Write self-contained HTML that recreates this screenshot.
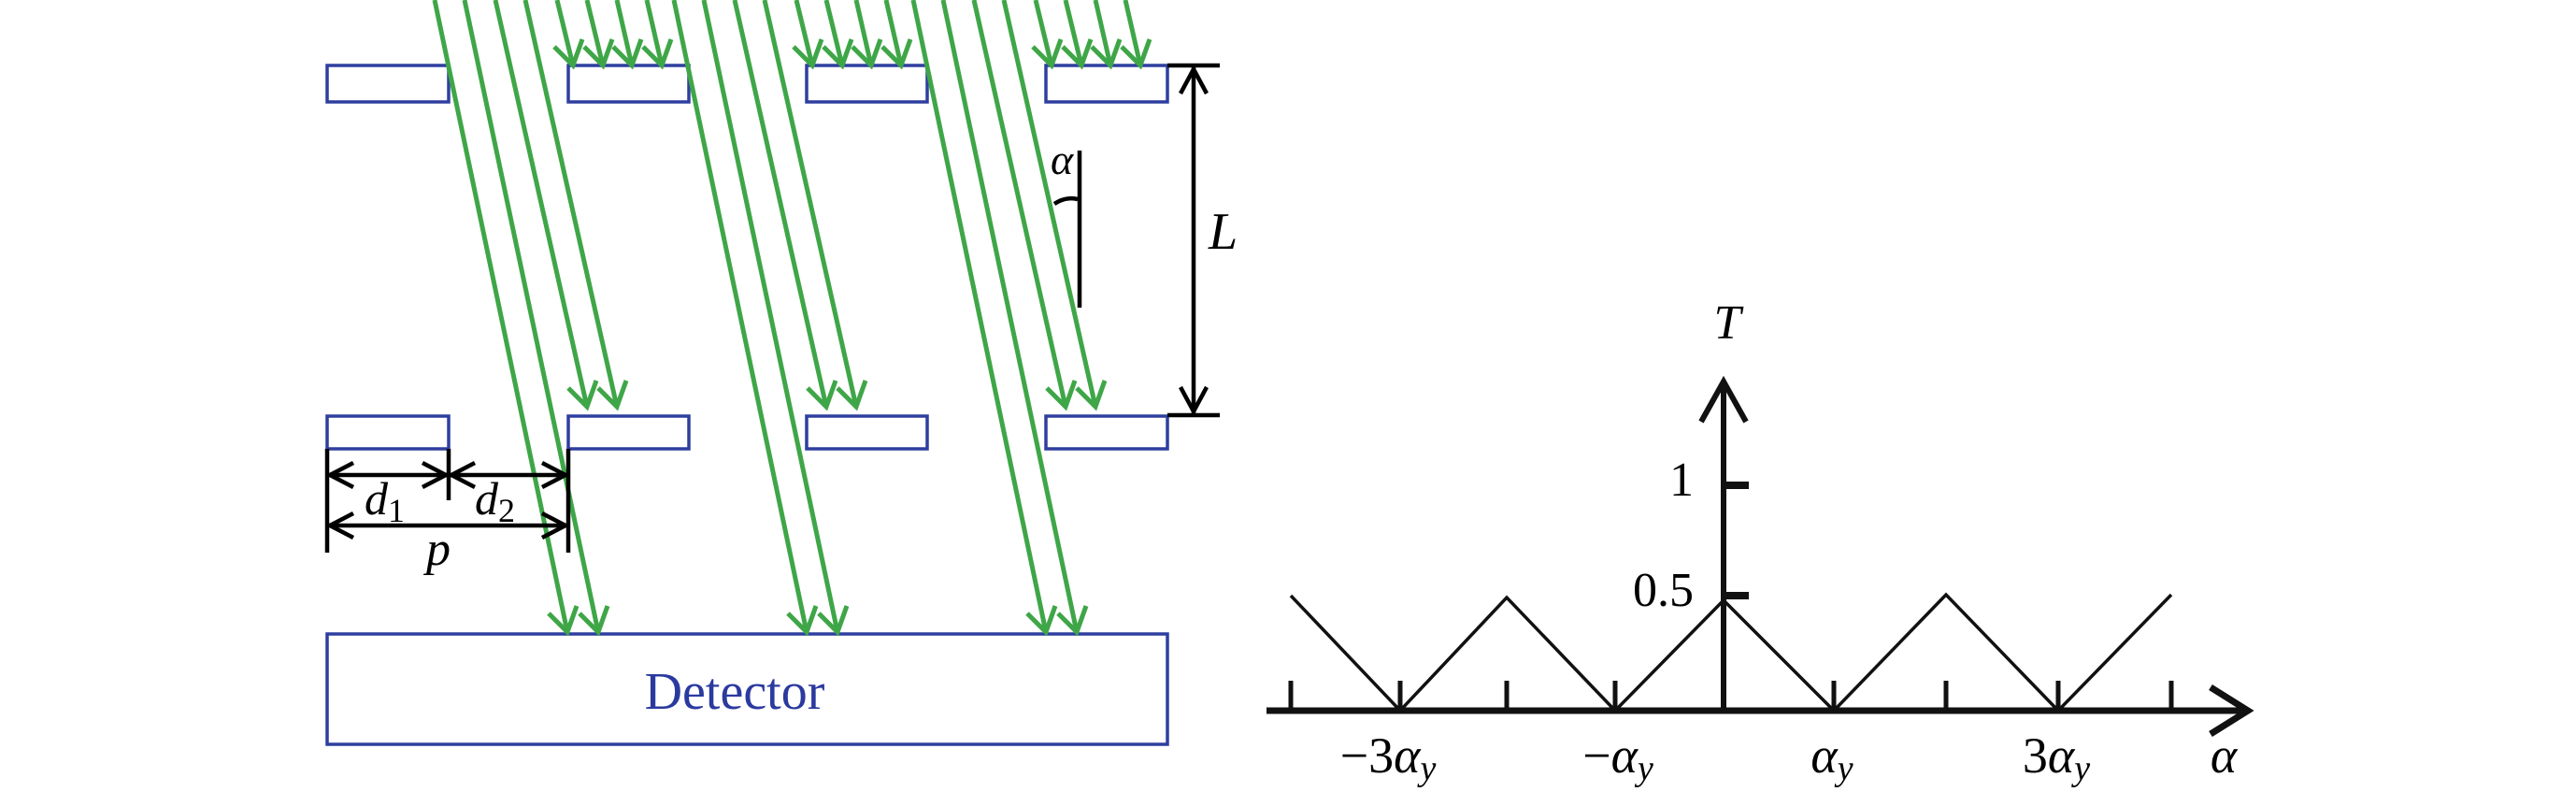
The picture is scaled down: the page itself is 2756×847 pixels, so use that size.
<!DOCTYPE html>
<html><head><meta charset="utf-8"><style>
html,body{margin:0;padding:0;background:#fff;}
svg{display:block;}
text{font-family:"Liberation Serif",serif;}
</style></head><body>
<svg width="2756" height="847" viewBox="0 0 2756 847" xmlns="http://www.w3.org/2000/svg">
<defs>
<g id="grp" stroke="#3fa648" stroke-width="5" fill="none" stroke-linejoin="miter">
  <line x1="465" y1="0" x2="607" y2="676"/>
  <line x1="497" y1="0" x2="640" y2="676"/>
  <polyline points="587,656 607,676 617,648"/>
  <polyline points="620,656 640,676 650,648"/>
  <line x1="530" y1="0" x2="628" y2="435"/>
  <line x1="562" y1="0" x2="660" y2="435"/>
  <polyline points="608,415 628,435 638,407"/>
  <polyline points="640,415 660,435 670,407"/>
  <line x1="596" y1="0" x2="613" y2="70"/>
  <line x1="628" y1="0" x2="645" y2="70"/>
  <line x1="660" y1="0" x2="676" y2="70"/>
  <line x1="692" y1="0" x2="708" y2="70"/>
  <polyline points="593,50 613,70 623,42"/>
  <polyline points="625,50 645,70 655,42"/>
  <polyline points="656,50 676,70 686,42"/>
  <polyline points="688,50 708,70 718,42"/>
</g>
</defs>
<g fill="none" stroke="#2f3f9f" stroke-width="3.5">
  <rect x="350" y="70" width="130" height="39"/>
  <rect x="608" y="70" width="129" height="39"/>
  <rect x="863" y="70" width="129" height="39"/>
  <rect x="1119" y="70" width="130" height="39"/>
  <rect x="350" y="445" width="130" height="35"/>
  <rect x="608" y="445" width="129" height="35"/>
  <rect x="863" y="445" width="129" height="35"/>
  <rect x="1119" y="445" width="130" height="35"/>
  <rect x="350" y="678" width="899" height="118"/>
</g>
<use href="#grp"/>
<use href="#grp" transform="translate(256,0)"/>
<use href="#grp" transform="translate(512,0)"/>
<text x="786" y="758" font-size="56" fill="#2b3a9f" text-anchor="middle">Detector</text>
<g stroke="#000" stroke-width="4.5" fill="none">
  <line x1="1249" y1="70" x2="1305" y2="70"/>
  <line x1="1249" y1="444" x2="1305" y2="444"/>
  <line x1="1277" y1="72" x2="1277" y2="442"/>
  <polyline points="1263,100 1277,74 1291,100"/>
  <polyline points="1263,414 1277,440 1291,414"/>
  <line x1="1155" y1="161" x2="1155" y2="329"/>
  <path d="M1128,218 Q1140,210 1153,213"/>
  <line x1="350" y1="480" x2="350" y2="591"/>
  <line x1="480" y1="480" x2="480" y2="535"/>
  <line x1="608" y1="480" x2="608" y2="591"/>
  <line x1="352" y1="508" x2="478" y2="508"/>
  <line x1="482" y1="508" x2="606" y2="508"/>
  <line x1="352" y1="562" x2="606" y2="562"/>
  <polyline points="378,495 353,508 378,521"/>
  <polyline points="452,495 477,508 452,521"/>
  <polyline points="508,495 483,508 508,521"/>
  <polyline points="580,495 605,508 580,521"/>
  <polyline points="378,549 353,562 378,575"/>
  <polyline points="580,549 605,562 580,575"/>
</g>
<text x="1293" y="266" font-size="56" font-style="italic">L</text>
<text x="1124" y="186" font-size="46" font-style="italic">α</text>
<text x="390" y="550" font-size="50" font-style="italic">d<tspan font-style="normal" font-size="36" dy="8">1</tspan></text>
<text x="508" y="550" font-size="50" font-style="italic">d<tspan font-style="normal" font-size="36" dy="8">2</tspan></text>
<text x="456" y="604" font-size="52" font-style="italic">p</text>
<g stroke="#111" fill="none">
  <line x1="1355" y1="760" x2="2403" y2="760" stroke-width="7"/>
  <polyline points="2365,735 2405,760 2365,785" stroke-width="7"/>
  <line x1="1844" y1="763" x2="1844" y2="409" stroke-width="6"/>
  <polyline points="1820,451 1844,408 1868,451" stroke-width="6"/>
  <line x1="1844" y1="519" x2="1871" y2="519" stroke-width="8"/>
  <line x1="1844" y1="637" x2="1871" y2="637" stroke-width="8"/>
  <g stroke-width="5">
    <line x1="1381" y1="728" x2="1381" y2="760"/>
    <line x1="1498" y1="728" x2="1498" y2="760"/>
    <line x1="1612" y1="728" x2="1612" y2="760"/>
    <line x1="1728" y1="728" x2="1728" y2="760"/>
    <line x1="1962" y1="728" x2="1962" y2="760"/>
    <line x1="2082" y1="728" x2="2082" y2="760"/>
    <line x1="2202" y1="728" x2="2202" y2="760"/>
    <line x1="2323" y1="728" x2="2323" y2="760"/>
  </g>
  <polyline points="1381,637 1498,760 1612,639 1728,760 1844,642 1962,760 2082,636 2202,760 2323,636" stroke-width="3.5"/>
</g>
<text x="1848" y="362" font-size="52" font-style="italic" text-anchor="middle">T</text>
<text x="1812" y="530" font-size="52" text-anchor="end">1</text>
<text x="1812" y="648" font-size="52" text-anchor="end">0.5</text>
<g font-size="54" text-anchor="middle">
  <text x="1485" y="826">−3<tspan font-style="italic">α</tspan><tspan font-style="italic" font-size="38" dy="8">y</tspan></text>
  <text x="1731" y="826">−<tspan font-style="italic">α</tspan><tspan font-style="italic" font-size="38" dy="8">y</tspan></text>
  <text x="1960" y="826"><tspan font-style="italic">α</tspan><tspan font-style="italic" font-size="38" dy="8">y</tspan></text>
  <text x="2200" y="826">3<tspan font-style="italic">α</tspan><tspan font-style="italic" font-size="38" dy="8">y</tspan></text>
  <text x="2379" y="826" font-style="italic">α</text>
</g>
</svg>
</body></html>
